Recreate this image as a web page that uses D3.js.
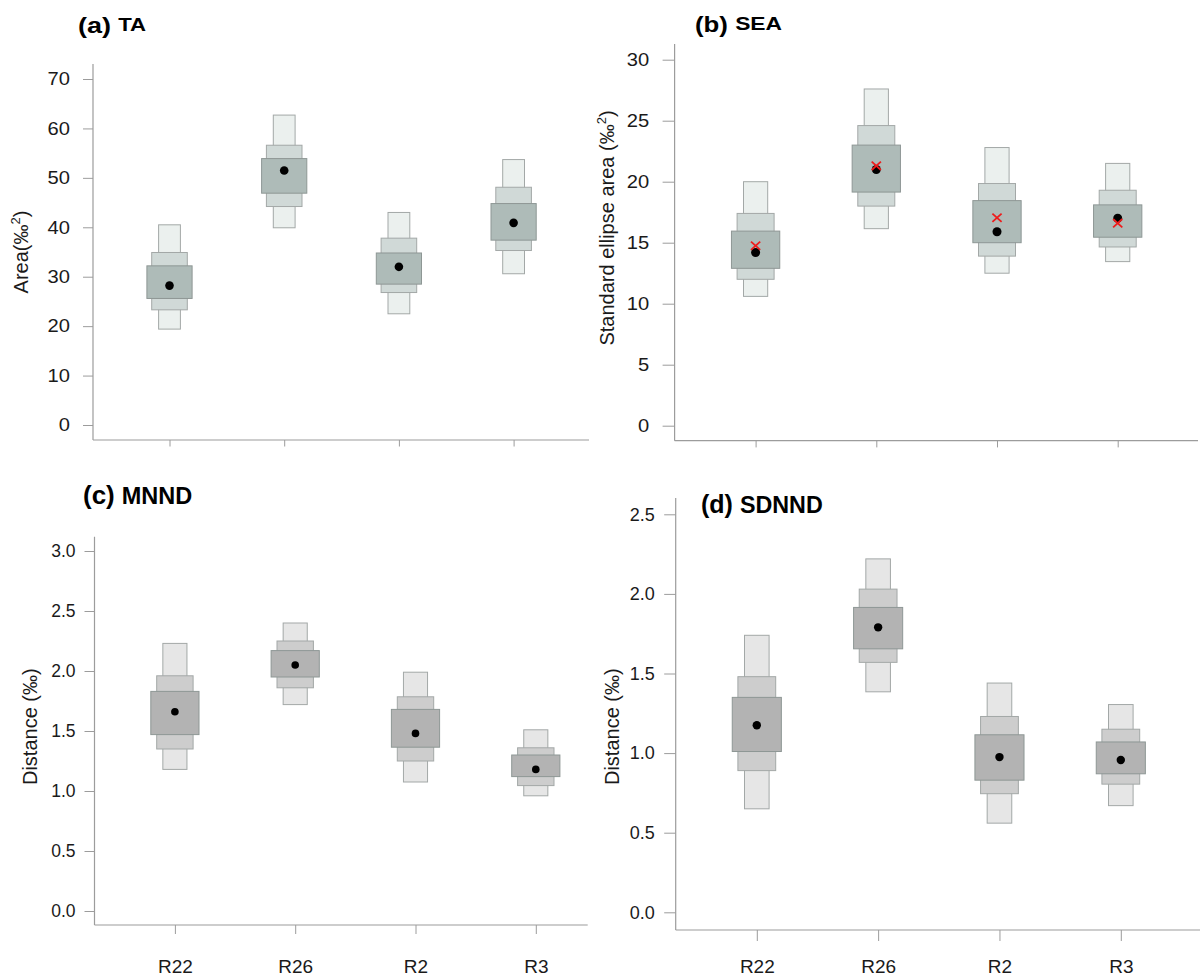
<!DOCTYPE html>
<html>
<head>
<meta charset="utf-8">
<script src="https://cdn.jsdelivr.net/npm/d3@7"></script>
<style>
  html, body { margin: 0; padding: 0; background: #fff; }
  svg { display: block; font-family: "Liberation Sans", Arial, Helvetica, sans-serif; }
</style>
</head>
<body>
<svg id="chart" width="1201" height="978"></svg>
<script>
// ---------------- DATA ----------------
const categories = ["R22", "R26", "R2", "R3"];

// (a) TA  — credible intervals [low, high]
const ta95 = [[19.4, 40.5], [39.9, 62.7], [22.5, 43.0], [30.6, 53.7]];
const ta75 = [[23.3, 34.9], [44.2, 56.6], [26.8, 37.8], [35.3, 48.1]];
const ta50 = [[25.6, 32.2], [46.9, 53.9], [28.5, 34.8], [37.4, 44.8]];
const taMode = [28.2, 51.5, 32.0, 40.9];
const taTicks = [0, 10, 20, 30, 40, 50, 60, 70];

// (b) SEA
const sea95 = [[10.6, 20.0], [16.15, 27.6], [12.5, 22.8], [13.45, 21.5]];
const sea75 = [[12.0, 17.4], [18.0, 24.6], [13.9, 19.85], [14.65, 19.3]];
const sea50 = [[12.9, 15.95], [19.15, 23.0], [15.0, 18.45], [15.45, 18.1]];
const seaMode = [14.2, 21.0, 15.9, 17.0];
const seaC = [14.75, 21.3, 17.05, 16.6];   // red crosses
const seaTicks = [0, 5, 10, 15, 20, 25, 30];

// (c) MNND
const mnnd95 = [[1.18, 2.23], [1.72, 2.40], [1.075, 1.99], [0.96, 1.51]];
const mnnd75 = [[1.35, 1.96], [1.86, 2.25], [1.25, 1.785], [1.045, 1.36]];
const mnnd50 = [[1.47, 1.83], [1.95, 2.17], [1.365, 1.68], [1.12, 1.30]];
const mnndMode = [1.66, 2.05, 1.48, 1.18];
const mnndTicks = [0, 0.5, 1.0, 1.5, 2.0, 2.5, 3.0];

// (d) SDNND
const sdnnd95 = [[0.65, 1.74], [1.385, 2.22], [0.56, 1.44], [0.67, 1.305]];
const sdnnd75 = [[0.89, 1.48], [1.57, 2.03], [0.745, 1.23], [0.805, 1.15]];
const sdnnd50 = [[1.01, 1.35], [1.655, 1.915], [0.83, 1.115], [0.87, 1.07]];
const sdnndMode = [1.175, 1.79, 0.975, 0.957];
const sdnndTicks = [0, 0.5, 1.0, 1.5, 2.0, 2.5];

// ---------------- LAYOUT / STYLE ----------------
const greenPal = ["#ebf0ee", "#d0d9d7", "#aebbb8"];
const grayPal  = ["#e6e6e6", "#cdcdcd", "#b3b3b3"];

const panels = [
  { letter: "(a)", name: "TA", tx: 78, tyL: 33, tyN: 31, lsz: 22.5, nsz: 18.5, tsx: 1.2, tdx: 6,
    yLabel: ["Area(‰", "2", ")"], ylx: 28, yly: 252,
    domain: [0, 70], yr: [425, 79], ticks: taTicks, fmt: d3.format("d"),
    axX: 93, axTop: 64, axY: 440, axRight: 589, xr: [169.5, 513.6],
    ytick: 10, ypad: 13, xtick: 6.5, labels: false, tickSx: 1.12, tickFs: 18,
    widths: [21.8, 35.6, 45.2], pal: greenPal, r: 4.3,
    i95: ta95, i75: ta75, i50: ta50, mode: taMode },
  { letter: "(b)", name: "SEA", tx: 695, tyL: 32, tyN: 30, lsz: 21.5, nsz: 19, tsx: 1.2, tdx: 6,
    yLabel: ["Standard ellipse area (‰", "2", ")"], ylx: 614, yly: 228,
    domain: [0, 30], yr: [425.7, 59.7], ticks: seaTicks, fmt: d3.format("d"),
    axX: 674.6, axTop: 44, axY: 440.7, axRight: 1198, xr: [755.6, 1117.7],
    ytick: 12, ypad: 13.5, xtick: 6.7, labels: false, tickSx: 1.12, tickFs: 18,
    widths: [24.2, 37, 48.3], pal: greenPal, r: 4.5,
    i95: sea95, i75: sea75, i50: sea50, mode: seaMode, cross: seaC },
  { letter: "(c)", name: "MNND", tx: 83, tyL: 503.5, tyN: 503.5, lsz: 26, nsz: 23.5, tsx: 1.0, tdx: 7,
    yLabel: ["Distance (‰)"], ylx: 37, yly: 726.7,
    domain: [0, 3], yr: [911, 551], ticks: mnndTicks, fmt: d3.format(".1f"),
    axX: 94.5, axTop: 536.7, axY: 925, axRight: 587.7, xr: [174.9, 535.8],
    ytick: 10, ypad: 9, xtick: 9, labels: true, labelBase: 973, tickSx: 1, tickFs: 17.5,
    widths: [24.1, 36.4, 48.2], pal: grayPal, r: 3.8,
    i95: mnnd95, i75: mnnd75, i50: mnnd50, mode: mnndMode },
  { letter: "(d)", name: "SDNND", tx: 701, tyL: 513, tyN: 513, lsz: 25, nsz: 23.3, tsx: 1.0, tdx: 7,
    yLabel: ["Distance (‰)"], ylx: 619, yly: 726.7,
    domain: [0, 2.5], yr: [912.3, 514.3], ticks: sdnndTicks, fmt: d3.format(".1f"),
    axX: 675.7, axTop: 498, axY: 930, axRight: 1200, xr: [756.8, 1120.8],
    ytick: 11.5, ypad: 9.5, xtick: 11, labels: true, labelBase: 973, tickSx: 1, tickFs: 18,
    widths: [24.6, 37.8, 49.1], pal: grayPal, r: 4.2,
    i95: sdnnd95, i75: sdnnd75, i50: sdnnd50, mode: sdnndMode }
];

const axisColor = "#9c9c9c";
const textColor = "#1a1a1a";
const svg = d3.select("#chart");

panels.forEach(p => {
  const g = svg.append("g");
  const y = d3.scaleLinear().domain(p.domain).range(p.yr);
  const x = d3.scalePoint().domain(categories).range(p.xr);

  // boxes: 95 -> 75 -> 50
  const levels = [p.i95, p.i75, p.i50];
  levels.forEach((lv, li) => {
    g.append("g").selectAll("rect").data(lv).join("rect")
      .attr("x", (d, i) => x(categories[i]) - p.widths[li] / 2)
      .attr("width", p.widths[li])
      .attr("y", d => y(d[1]))
      .attr("height", d => y(d[0]) - y(d[1]))
      .attr("fill", p.pal[li])
      .attr("stroke", li === 2 ? "#8e9795" : "#a3a8a7")
      .attr("stroke-width", 1);
  });

  // mode points
  g.append("g").selectAll("circle").data(p.mode).join("circle")
    .attr("cx", (d, i) => x(categories[i]))
    .attr("cy", d => y(d))
    .attr("r", p.r)
    .attr("fill", "#000");

  // red crosses
  if (p.cross) {
    const s = 4.6;
    const cg = g.append("g").selectAll("g").data(p.cross).join("g")
      .attr("transform", (d, i) => `translate(${x(categories[i])},${y(d)})`);
    cg.append("line").attr("x1", -s).attr("y1", -s * 0.9).attr("x2", s).attr("y2", s * 0.9);
    cg.append("line").attr("x1", -s).attr("y1", s * 0.9).attr("x2", s).attr("y2", -s * 0.9);
    cg.selectAll("line").attr("stroke", "#ee1c1c").attr("stroke-width", 1.8);
  }

  // y axis
  const ya = g.append("g").attr("transform", `translate(${p.axX},0)`)
    .call(d3.axisLeft(y).tickValues(p.ticks).tickFormat(p.fmt)
      .tickSize(p.ytick).tickPadding(p.ypad).tickSizeOuter(0));
  ya.select(".domain").remove();
  ya.selectAll(".tick line").attr("stroke", axisColor);
  ya.selectAll(".tick text")
    .attr("fill", textColor)
    .attr("font-size", p.tickFs)
    .attr("font-family", "Liberation Sans, Arial, sans-serif")
    .attr("x", -(p.ytick + p.ypad) / p.tickSx)
    .attr("transform", `scale(${p.tickSx},1)`);

  // x axis
  const xa = g.append("g").attr("transform", `translate(0,${p.axY})`)
    .call(d3.axisBottom(x).tickSize(p.xtick).tickSizeOuter(0)
      .tickPadding(p.labels ? (p.labelBase - p.axY) - p.xtick - 13.5 : 3)
      .tickFormat(p.labels ? (d => d) : () => ""));
  xa.select(".domain").remove();
  xa.selectAll(".tick line").attr("stroke", axisColor);
  xa.selectAll(".tick text").attr("fill", textColor).attr("font-size", 19)
    .attr("font-family", "Liberation Sans, Arial, sans-serif");

  // axis lines
  g.append("line").attr("x1", p.axX).attr("x2", p.axX).attr("y1", p.axTop).attr("y2", p.axY)
    .attr("stroke", axisColor).attr("stroke-width", 1.2);
  g.append("line").attr("x1", p.axX).attr("x2", p.axRight).attr("y1", p.axY).attr("y2", p.axY)
    .attr("stroke", axisColor).attr("stroke-width", 1.2);

  // y label
  const yl = g.append("text")
    .attr("transform", `translate(${p.ylx},${p.yly}) rotate(-90)`)
    .attr("text-anchor", "middle")
    .attr("font-size", 20)
    .attr("fill", textColor);
  yl.append("tspan").text(p.yLabel[0]);
  if (p.yLabel.length > 1) {
    yl.append("tspan").attr("font-size", 13).attr("dy", -8).text(p.yLabel[1]);
    yl.append("tspan").attr("dy", 8).text(p.yLabel[2]);
  }

  // title
  const t = g.append("text")
    .attr("transform", `translate(${p.tx},${p.tyL}) scale(${p.tsx},1)`)
    .attr("font-weight", "bold")
    .attr("fill", "#000");
  t.append("tspan").attr("font-size", p.lsz).text(p.letter);
  t.append("tspan").attr("font-size", p.nsz).attr("dx", p.tdx).attr("dy", p.tyN - p.tyL).text(p.name);
});
</script>
</body>
</html>
